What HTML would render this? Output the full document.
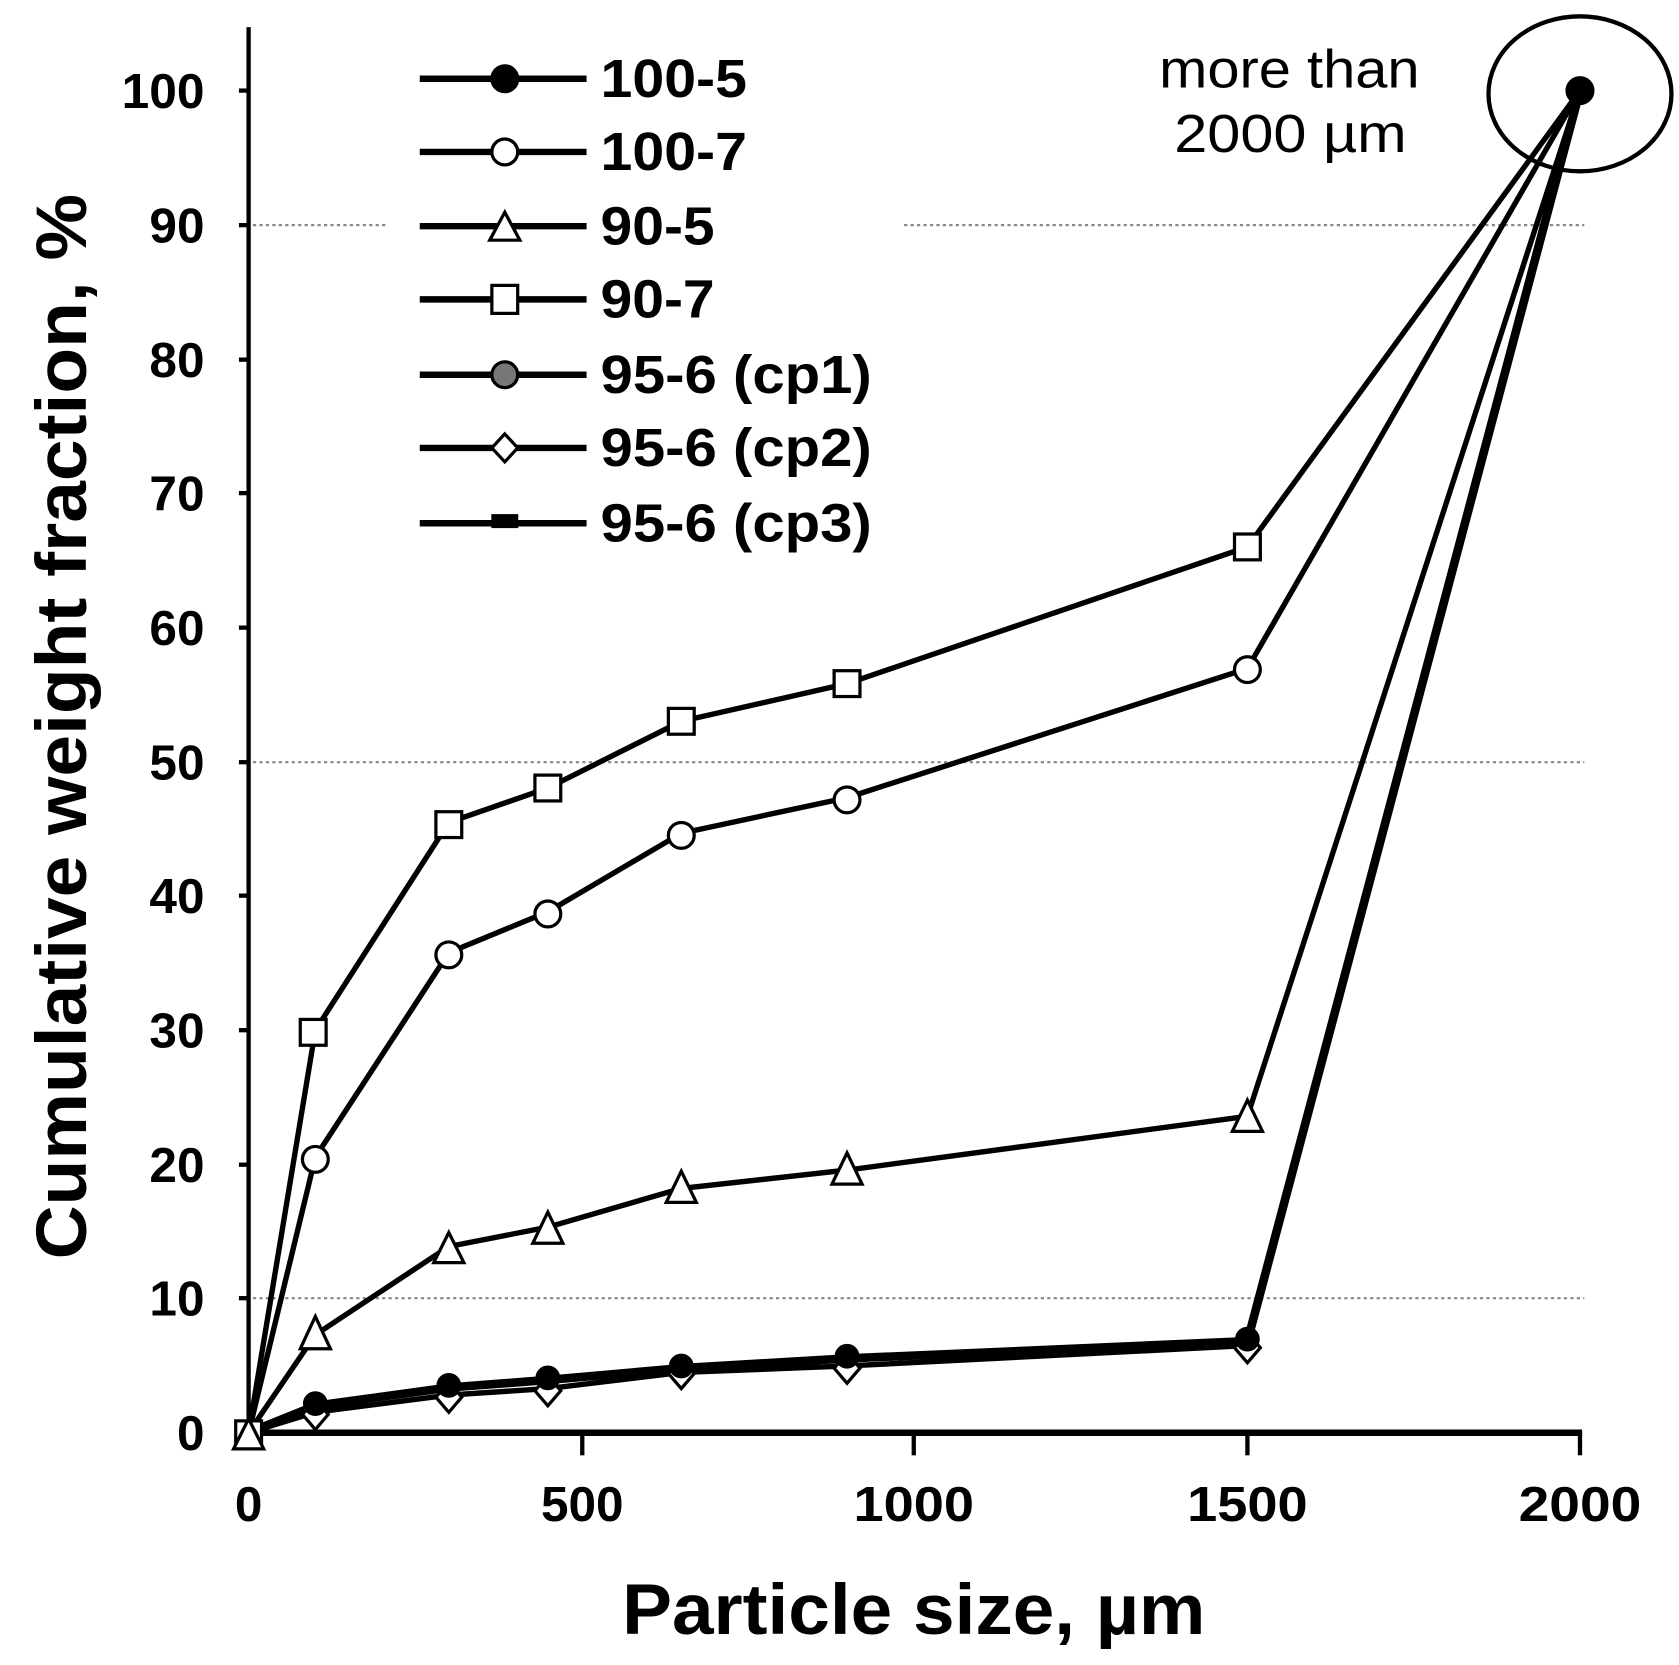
<!DOCTYPE html>
<html><head><meta charset="utf-8"><style>html,body{margin:0;padding:0;background:#fff}</style></head><body>
<svg width="1679" height="1660" viewBox="0 0 1560 1542" xmlns="http://www.w3.org/2000/svg" font-family="Liberation Sans, Arial, sans-serif">
<rect width="1560" height="1542" fill="#fff"/>
<g stroke="#888" stroke-width="2" stroke-dasharray="3,3">
<line x1="235" y1="209" x2="360" y2="209"/><line x1="840" y1="209" x2="1472" y2="209"/>
<line x1="235" y1="708" x2="1472" y2="708"/>
<line x1="235" y1="1206" x2="1472" y2="1206"/>
</g>
<line x1="231" y1="25" x2="231" y2="1333" stroke="#000" stroke-width="4"/>
<line x1="229" y1="1331" x2="1470" y2="1331" stroke="#000" stroke-width="6"/>
<g stroke="#000" stroke-width="4">
<line x1="541" y1="1331" x2="541" y2="1352"/><line x1="849" y1="1331" x2="849" y2="1352"/><line x1="1159" y1="1331" x2="1159" y2="1352"/><line x1="1468" y1="1331" x2="1468" y2="1352"/>
<line x1="222" y1="84" x2="231" y2="84"/><line x1="222" y1="209" x2="231" y2="209"/><line x1="222" y1="334" x2="231" y2="334"/><line x1="222" y1="458" x2="231" y2="458"/><line x1="222" y1="583" x2="231" y2="583"/><line x1="222" y1="708" x2="231" y2="708"/><line x1="222" y1="832" x2="231" y2="832"/><line x1="222" y1="957" x2="231" y2="957"/><line x1="222" y1="1082" x2="231" y2="1082"/><line x1="222" y1="1206" x2="231" y2="1206"/>
</g>
<g font-size="46" font-weight="bold" text-anchor="end" fill="#000">
<text x="190" y="100" textLength="77" lengthAdjust="spacingAndGlyphs">100</text><text x="190" y="225">90</text><text x="190" y="350">80</text><text x="190" y="474">70</text><text x="190" y="599">60</text><text x="190" y="724">50</text><text x="190" y="848">40</text><text x="190" y="973">30</text><text x="190" y="1098">20</text><text x="190" y="1222">10</text><text x="190" y="1347">0</text>
</g>
<g font-size="46" font-weight="bold" text-anchor="middle">
<text x="231" y="1413">0</text><text x="541" y="1413">500</text><text x="849" y="1413" textLength="112" lengthAdjust="spacingAndGlyphs">1000</text><text x="1159" y="1413" textLength="112" lengthAdjust="spacingAndGlyphs">1500</text><text x="1468" y="1413" textLength="114" lengthAdjust="spacingAndGlyphs">2000</text>
</g>
<text x="578" y="1518" font-size="66" font-weight="bold" textLength="542" lengthAdjust="spacingAndGlyphs">Particle size, µm</text>
<text transform="translate(80,1170) rotate(-90)" font-size="66" font-weight="bold" textLength="990" lengthAdjust="spacingAndGlyphs">Cumulative weight fraction, %</text>
<ellipse cx="1468" cy="87" rx="85" ry="72" fill="none" stroke="#000" stroke-width="4"/>
<g font-size="50"><text x="1077" y="81" textLength="242" lengthAdjust="spacingAndGlyphs">more than</text><text x="1091" y="141" textLength="216" lengthAdjust="spacingAndGlyphs">2000 µm</text></g>
<g fill="none" stroke="#000" stroke-width="5">
<polyline points="231,1331 293,957 417,764 509,732 633,670 787,635 1159,508 1468,84"/>
<polyline points="231,1331 293,1075 417,885 509,847 633,774 787,741 1159,621 1468,84"/>
<polyline points="231,1331 293,1240 417,1158 509,1140 633,1104 787,1087 1159,1037 1468,84"/>
<polyline points="231,1331 293,1306 417,1289 509,1282 633,1271 787,1262 1159,1246 1468,84" stroke-width="8"/>
<polyline points="231,1331 293,1312 417,1296 509,1290 633,1275 787,1269 1159,1250 1468,84"/>
</g>
<g stroke="#000" stroke-width="3" fill="#fff">
<g><rect x="279" y="947" width="24" height="24"/><rect x="405" y="754" width="24" height="24"/><rect x="497" y="720" width="24" height="24"/><rect x="621" y="658" width="24" height="24"/><rect x="775" y="623" width="24" height="24"/><rect x="1147" y="496" width="24" height="24"/></g>
<g><circle cx="293" cy="1077" r="12"/><circle cx="417" cy="887" r="12"/><circle cx="509" cy="849" r="12"/><circle cx="633" cy="776" r="12"/><circle cx="787" cy="743" r="12"/><circle cx="1159" cy="622" r="12"/></g>
<g><polygon points="293,1223 279,1253 307,1253"/><polygon points="417,1145 403,1173 431,1173"/><polygon points="509,1126 495,1155 523,1155"/><polygon points="633,1088 619,1117 647,1117"/><polygon points="787,1071 773,1100 801,1100"/><polygon points="1159,1022 1145,1051 1173,1051"/></g>
<g><polygon points="293,1300 305,1314 293,1328 281,1314"/><polygon points="417,1284 429,1298 417,1312 405,1298"/><polygon points="509,1278 521,1292 509,1306 497,1292"/><polygon points="633,1262 645,1276 633,1290 621,1276"/><polygon points="787,1257 799,1271 787,1285 775,1271"/><polygon points="1159,1238 1171,1252 1159,1266 1147,1252"/></g>
<g fill="#000"><circle cx="293" cy="1304" r="10"/><circle cx="417" cy="1287" r="10"/><circle cx="509" cy="1280" r="10"/><circle cx="633" cy="1269" r="10"/><circle cx="787" cy="1260" r="10"/><circle cx="1159" cy="1244" r="10"/><circle cx="1468" cy="84" r="12"/></g>
<rect x="219" y="1320" width="24" height="22"/><polygon points="231,1318 217,1346 245,1346"/>
</g>
<g stroke="#000" stroke-width="6">
<line x1="390" y1="73" x2="545" y2="73"/><line x1="390" y1="141" x2="545" y2="141"/><line x1="390" y1="210" x2="545" y2="210"/><line x1="390" y1="278" x2="545" y2="278"/><line x1="390" y1="348" x2="545" y2="348"/><line x1="390" y1="416" x2="545" y2="416"/><line x1="390" y1="486" x2="545" y2="486"/>
</g>
<g stroke="#000" stroke-width="3" fill="#fff">
<circle cx="469" cy="73" r="12" fill="#000"/>
<circle cx="469" cy="141" r="12"/>
<polygon points="469,197 455,223 483,223"/>
<rect x="457" y="265" width="24" height="26"/>
<circle cx="469" cy="348" r="12" fill="#777"/>
<polygon points="469,403 481,416 469,429 457,416"/>
<rect x="458" y="479" width="22" height="10" fill="#000"/>
</g>
<g font-size="50" font-weight="bold">
<text x="558" y="90" textLength="136" lengthAdjust="spacingAndGlyphs">100-5</text><text x="558" y="158" textLength="136" lengthAdjust="spacingAndGlyphs">100-7</text><text x="558" y="227" textLength="106" lengthAdjust="spacingAndGlyphs">90-5</text><text x="558" y="295" textLength="106" lengthAdjust="spacingAndGlyphs">90-7</text><text x="558" y="365" textLength="252" lengthAdjust="spacingAndGlyphs">95-6 (cp1)</text><text x="558" y="433" textLength="252" lengthAdjust="spacingAndGlyphs">95-6 (cp2)</text><text x="558" y="503" textLength="252" lengthAdjust="spacingAndGlyphs">95-6 (cp3)</text>
</g>
</svg>
</body></html>
